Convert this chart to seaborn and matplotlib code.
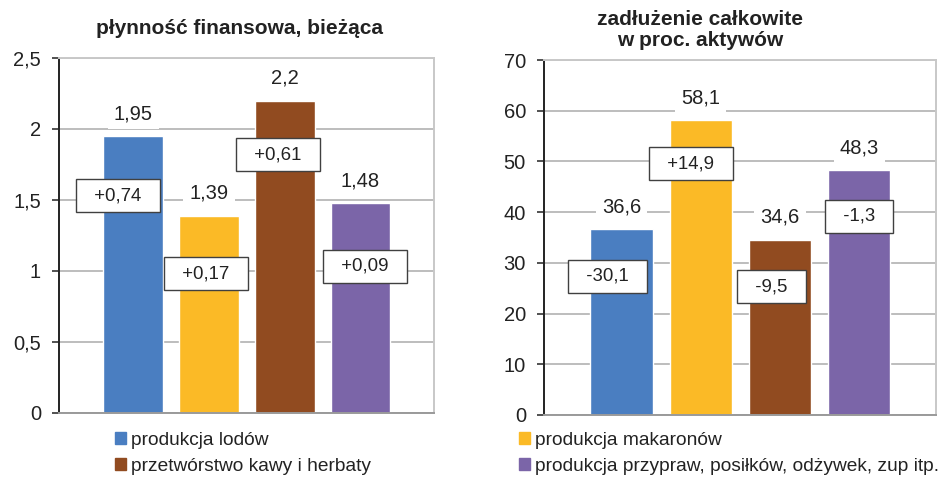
import matplotlib
matplotlib.use("Agg")
import matplotlib.pyplot as plt
import matplotlib.patches as mpatches
import seaborn as sns

# data
sectors = ["produkcja lodów", "produkcja makaronów",
           "przetwórstwo kawy i herbaty", "produkcja przypraw, posiłków, odżywek, zup itp."]
liquidity = [1.95, 1.39, 2.2, 1.48]
liquidity_labels = ["1,95", "1,39", "2,2", "1,48"]
liquidity_change = ["+0,74", "+0,17", "+0,61", "+0,09"]
debt = [36.6, 58.1, 34.6, 48.3]
debt_labels = ["36,6", "58,1", "34,6", "48,3"]
debt_change = ["-30,1", "+14,9", "-9,5", "-1,3"]

liq_ticks = [0, 0.5, 1, 1.5, 2, 2.5]
liq_ticklabels = ["0", "0,5", "1", "1,5", "2", "2,5"]
debt_ticks = [0, 10, 20, 30, 40, 50, 60, 70]
debt_ticklabels = ["0", "10", "20", "30", "40", "50", "60", "70"]

# layout of the change boxes (y in data units, x offset in points)
liq_box_y = [1.53, 0.98, 1.82, 1.035]
liq_box_dx = [-11, -2, -5, 3]
debt_box_y = [27.4, 49.5, 25.3, 39.2]
debt_box_dx = [-10, -7, -6, 0]

colors = ["#4A7EC1", "#FBBA26", "#914B20", "#7B65A8"]
FONT = "Liberation Sans"

sns.set_theme(style="white")
plt.rcParams["font.family"] = [FONT, "DejaVu Sans"]


def draw_panel(ax, values, labels, changes, box_y, box_dx, ticks, ticklabels, ymax):
    sns.barplot(x=sectors, y=values, hue=sectors, palette=colors, width=0.79,
                saturation=1, legend=False, ax=ax, zorder=2)
    ax.set_xlim(-0.98, 3.97)
    ax.set_ylim(0, ymax)
    ax.set_yticks(ticks)
    ax.set_yticklabels(ticklabels, fontsize=14.5, color="#222222")
    ax.set_xticks([])
    ax.set_xlabel("")
    ax.yaxis.grid(True, color="#BDBDBD", linewidth=1.4, zorder=0)
    ax.set_axisbelow(True)
    ax.tick_params(axis="y", left=True, length=5, width=1.2, color="#333333", pad=8)
    ax.spines["left"].set_color("#222222")
    ax.spines["left"].set_linewidth(1.4)
    ax.spines["bottom"].set_color("#9A9A9A")
    ax.spines["bottom"].set_linewidth(1.4)
    for side in ["top", "right"]:
        ax.spines[side].set_visible(True)
        ax.spines[side].set_color("#C8C8C8")
        ax.spines[side].set_linewidth(1.4)
    for i, (v, lab) in enumerate(zip(values, labels)):
        ax.annotate(lab, (i, v), xytext=(0, 16), textcoords="offset points",
                    ha="center", va="center", fontsize=14.5, color="#222222", zorder=4,
                    bbox=dict(boxstyle="square,pad=0.3", fc="white", ec="none"))
    for i, (ch, y, dx) in enumerate(zip(changes, box_y, box_dx)):
        ax.annotate(f"  {ch}  ", (i, y), xytext=(dx, 0), textcoords="offset points",
                    ha="center", va="center", fontsize=13.4, color="#222222", zorder=5,
                    bbox=dict(boxstyle="square,pad=0.43", fc="white", ec="#404040", lw=1.0))


fig = plt.figure(figsize=(9.43, 4.78), dpi=100)
ax1 = fig.add_axes([59 / 943, 1 - 413 / 478, 375 / 943, 355 / 478])
ax2 = fig.add_axes([544 / 943, 1 - 415 / 478, 392 / 943, 355 / 478])

draw_panel(ax1, liquidity, liquidity_labels, liquidity_change, liq_box_y, liq_box_dx,
           liq_ticks, liq_ticklabels, 2.5)
draw_panel(ax2, debt, debt_labels, debt_change, debt_box_y, debt_box_dx,
           debt_ticks, debt_ticklabels, 70)

fig.text(240 / 943, 1 - 28 / 478, "płynność finansowa, bieżąca", ha="center", va="center",
         fontsize=15, fontweight="bold", color="#222222")
fig.text(700 / 943, 1 - 30 / 478, "zadłużenie całkowite\nw proc. aktywów", ha="center",
         va="center", fontsize=15, fontweight="bold", color="#222222", linespacing=1.15)

legend_kw = dict(frameon=False, loc="upper left", fontsize=13.8, handlelength=0.55,
                 handleheight=0.55, handletextpad=0.3, labelspacing=0.45,
                 borderaxespad=0, borderpad=0)
left_handles = [mpatches.Patch(color=colors[0], label=sectors[0]),
                mpatches.Patch(color=colors[2], label=sectors[2])]
right_handles = [mpatches.Patch(color=colors[1], label=sectors[1]),
                 mpatches.Patch(color=colors[3], label=sectors[3])]
leg1 = fig.legend(handles=left_handles, bbox_to_anchor=(115 / 943, 1 - 432 / 478), **legend_kw)
leg2 = fig.legend(handles=right_handles, bbox_to_anchor=(519 / 943, 1 - 432 / 478), **legend_kw)
for leg in (leg1, leg2):
    for t in leg.get_texts():
        t.set_color("#222222")

fig.savefig("out.png", dpi=100)
